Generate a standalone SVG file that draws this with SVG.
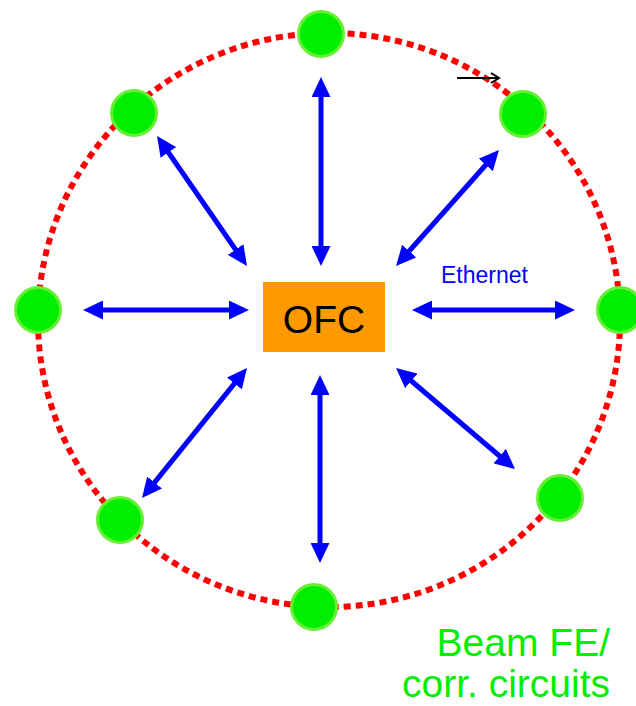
<svg xmlns="http://www.w3.org/2000/svg" width="636" height="706" viewBox="0 0 636 706">
<style>
.ring{fill:none;stroke:#ff0000;stroke-width:6;stroke-dasharray:7 5}
.node{fill:#00ee00;stroke:#66f033;stroke-width:3}
.link{stroke:#0000ff;stroke-width:5;fill:none;marker-start:url(#ah);marker-end:url(#ah)}
.lbl{font-family:"Liberation Sans",Arial,sans-serif}
</style>
<defs>
<marker id="ah" markerUnits="strokeWidth" markerWidth="4" markerHeight="3.8" refX="1.2" refY="1.9" orient="auto-start-reverse">
<path d="M0,0 L4,1.9 L0,3.8 z" fill="#0000ff"/>
</marker>
<marker id="bk" markerUnits="userSpaceOnUse" markerWidth="12" markerHeight="12" refX="10" refY="6" orient="auto">
<path d="M2,1 L10,6 L2,11" fill="none" stroke="#000" stroke-width="2"/>
</marker>
</defs>
<rect width="636" height="706" fill="#fff"/>
<ellipse class="ring" cx="329" cy="320" rx="291" ry="287"/>
<line x1="457" y1="78" x2="499" y2="78" stroke="#000" stroke-width="2" marker-end="url(#bk)"/>
<g id="connectors">
<line class="link" x1="321" y1="91" x2="321" y2="252"/>
<line class="link" x1="320" y1="389" x2="320" y2="549"/>
<line class="link" x1="97" y1="310" x2="235" y2="310"/>
<line class="link" x1="426" y1="310" x2="561" y2="310"/>
<line class="link" x1="165" y1="147.5" x2="239" y2="254.5"/>
<line class="link" x1="489.7" y1="160.5" x2="405.3" y2="255.5"/>
<line class="link" x1="238.2" y1="378.9" x2="150.8" y2="487.1"/>
<line class="link" x1="406.7" y1="377" x2="504.3" y2="460"/>
<text class="lbl" x="441" y="283" font-size="23" fill="#0000ff">Ethernet</text>
</g>
<g id="n-top"><circle class="node" cx="321" cy="34" r="22.5"/></g>
<g id="n-topleft"><circle class="node" cx="134" cy="113" r="22.5"/></g>
<g id="n-topright"><circle class="node" cx="523" cy="114" r="22.5"/></g>
<g id="n-left"><circle class="node" cx="38" cy="310" r="22.5"/></g>
<g id="n-right"><circle class="node" cx="620" cy="310" r="22.5"/></g>
<g id="n-bottomright"><circle class="node" cx="560" cy="498" r="22.5"/></g>
<g id="n-bottomleft"><circle class="node" cx="120" cy="520" r="22.5"/></g>
<g id="n-bottom"><circle class="node" cx="314" cy="607" r="22.5"/></g>
<g id="ofc">
<rect x="263" y="282" width="122" height="70" fill="#ff9900"/>
<text class="lbl" x="324" y="333" font-size="39" text-anchor="middle" fill="#000">OFC</text>
</g>
<g id="caption">
<text class="lbl" x="610" y="656" font-size="39" text-anchor="end" fill="#00ee00">Beam FE/</text>
<text class="lbl" x="610" y="697" font-size="39" text-anchor="end" fill="#00ee00">corr. circuits</text>
</g>
</svg>
